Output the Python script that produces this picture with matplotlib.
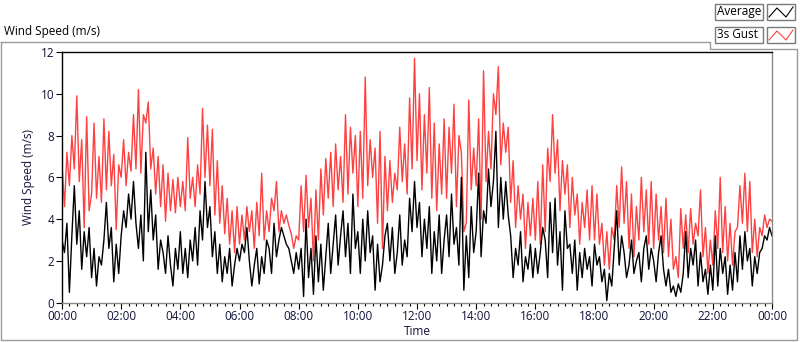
import numpy as np
import matplotlib
matplotlib.use("Agg")
import matplotlib.pyplot as plt
from matplotlib.patches import Rectangle
from matplotlib.lines import Line2D

plt.rcParams['font.family'] = ['Open Sans', 'DejaVu Sans']

# 5-minute samples, hour by hour
gust = [
    6.6, 4.6, 7.2, 5.6, 8.0, 6.4, 9.9, 5.8, 7.8, 3.6, 8.9, 4.4,
    5.2, 8.6, 5.0, 7.0, 4.8, 8.8, 5.4, 8.2, 5.6, 7.1, 3.5, 6.6,
    6.0, 7.8, 5.6, 7.2, 6.3, 9.0, 6.4, 10.2, 6.2, 9.0, 8.6, 9.6,
    6.4, 7.4, 5.2, 7.0, 4.6, 6.6, 3.9, 6.2, 4.4, 5.9, 4.3, 6.0,
    4.6, 5.8, 4.4, 7.9, 5.0, 6.0, 4.6, 6.6, 5.2, 9.3, 6.0, 8.5,
    5.6, 8.3, 4.2, 6.8, 3.8, 5.6, 3.3, 5.0, 2.8, 4.4, 2.4, 4.6,
    2.8, 4.2, 3.0, 4.6, 3.4, 4.4, 2.6, 4.8, 3.2, 6.2, 3.0, 4.4,
    3.4, 5.0, 4.4, 5.8, 3.4, 4.4, 3.8, 4.2, 3.7, 3.3, 2.6, 3.2,
    3.0, 5.6, 3.4, 6.1, 3.6, 5.0, 2.0, 5.4, 3.0, 6.4, 4.2, 6.9,
    5.0, 7.2, 4.6, 7.6, 5.4, 7.0, 4.8, 9.0, 5.2, 8.4, 6.2, 8.0,
    4.6, 8.2, 5.0, 10.8, 5.6, 7.8, 6.0, 7.4, 3.8, 8.2, 2.6, 7.0,
    4.4, 6.8, 4.8, 6.2, 5.4, 8.4, 5.8, 7.6, 5.2, 9.8, 6.4, 11.7,
    6.8, 10.0, 5.4, 9.0, 6.2, 10.3, 5.0, 8.6, 4.4, 7.6, 5.2, 8.8,
    5.0, 8.4, 6.2, 9.5, 4.6, 8.0, 7.2, 3.4, 3.8, 9.7, 5.4, 7.4,
    5.6, 8.8, 4.0, 11.1, 5.8, 8.2, 6.4, 10.0, 9.0, 11.3, 6.6, 8.6,
    7.2, 8.4, 4.8, 6.8, 3.6, 5.6, 4.0, 5.2, 2.6, 4.8, 3.2, 5.0,
    3.0, 5.8, 2.8, 6.6, 3.4, 7.4, 5.8, 9.0, 6.2, 7.8, 4.4, 6.8,
    5.2, 6.6, 3.6, 6.0, 4.2, 5.2, 2.8, 4.8, 3.6, 5.4, 3.0, 5.6,
    3.0, 5.2, 2.8, 3.8, 1.8, 3.4, 1.6, 3.6, 3.0, 5.6, 3.6, 6.5,
    3.8, 5.8, 2.6, 5.2, 2.2, 4.6, 3.0, 6.0, 3.4, 5.4, 2.8, 5.8,
    2.6, 5.2, 3.0, 4.6, 2.4, 5.0, 2.2, 4.0, 1.6, 2.2, 1.2, 4.5,
    2.6, 4.2, 2.4, 4.5, 2.8, 3.8, 3.2, 5.4, 2.2, 3.6, 1.4, 3.0,
    1.8, 4.4, 2.6, 6.0, 2.4, 4.6, 2.0, 3.8, 1.8, 3.4, 3.6, 5.6,
    3.8, 6.2, 3.4, 5.8, 2.4, 4.0, 2.2, 3.6, 3.2, 4.2, 3.6, 4.0,
    3.9,
]
average = [
    3.0, 2.4, 3.8, 0.5, 3.2, 5.6, 2.8, 4.4, 1.6, 3.4, 2.2, 3.6,
    1.2, 2.6, 0.8, 2.2, 1.8, 3.0, 4.8, 2.6, 3.6, 1.0, 2.8, 1.4,
    3.2, 4.4, 3.6, 5.2, 4.0, 5.8, 3.8, 2.6, 4.2, 2.0, 7.2, 3.4,
    5.4, 3.0, 4.2, 1.6, 3.0, 2.4, 1.4, 3.2, 1.8, 0.8, 2.6, 1.6,
    3.4, 1.4, 2.6, 1.2, 3.0, 2.0, 3.6, 1.8, 4.4, 3.0, 5.8, 3.6,
    4.6, 2.2, 3.4, 1.4, 2.8, 1.0, 2.2, 1.4, 2.6, 0.8, 1.8, 2.6,
    2.0, 2.8, 2.4, 3.6, 2.0, 0.8, 1.8, 2.6, 0.9, 2.2, 1.4, 3.0,
    2.6, 1.4, 3.8, 2.2, 3.0, 3.6, 3.2, 2.8, 2.6, 2.0, 1.4, 2.4,
    1.6, 2.6, 0.3, 4.0, 1.2, 2.6, 0.4, 3.2, 1.0, 2.8, 0.6, 2.2,
    3.8, 1.4, 2.8, 4.2, 1.8, 3.2, 4.4, 2.2, 3.8, 1.4, 5.2, 2.6,
    3.4, 1.4, 4.0, 2.0, 4.4, 2.4, 3.2, 0.6, 2.8, 1.0, 1.8, 3.2,
    3.8, 2.0, 3.6, 1.4, 2.4, 4.2, 1.8, 3.0, 2.2, 5.0, 3.4, 5.8,
    3.6, 4.8, 2.2, 4.0, 2.6, 4.6, 1.4, 3.4, 2.0, 4.2, 1.4, 3.0,
    4.2, 2.2, 5.2, 2.8, 3.6, 1.8, 6.0, 0.6, 3.2, 1.2, 4.6, 2.4,
    3.4, 6.2, 2.2, 4.4, 3.8, 6.4, 4.6, 5.8, 8.2, 3.6, 6.0, 4.0,
    5.8, 4.2, 3.2, 1.2, 2.6, 1.8, 3.4, 1.0, 2.2, 1.6, 2.8, 1.2,
    2.6, 1.4, 2.4, 3.6, 3.0, 1.2, 4.8, 2.4, 5.0, 1.8, 3.4, 0.6,
    4.4, 2.6, 2.8, 1.4, 3.0, 0.6, 2.4, 1.2, 2.6, 1.6, 2.2, 0.8,
    2.8, 1.8, 2.2, 1.0, 1.6, 0.1, 1.4, 0.8, 2.6, 4.4, 1.8, 3.2,
    2.4, 1.2, 1.8, 3.0, 1.4, 2.0, 2.4, 1.0, 2.6, 3.2, 1.6, 2.6,
    2.0, 1.0, 2.4, 3.2, 1.6, 0.8, 1.6, 0.5, 0.8, 0.3, 0.9, 0.5,
    1.4, 3.4, 1.2, 2.6, 1.8, 3.0, 0.8, 2.4, 1.0, 1.6, 0.4, 1.8,
    0.6, 3.2, 0.8, 2.6, 1.4, 2.2, 0.4, 1.8, 0.6, 2.4, 1.0, 3.2,
    1.6, 3.4, 2.0, 2.6, 0.8, 2.2, 1.4, 2.4, 2.6, 3.2, 3.0, 3.6,
    3.2,
]
sample_minutes = 5
x_tick_hours = [0, 2, 4, 6, 8, 10, 12, 14, 16, 18, 20, 22, 24]
x_tick_labels = ["00:00", "02:00", "04:00", "06:00", "08:00", "10:00", "12:00",
                 "14:00", "16:00", "18:00", "20:00", "22:00", "00:00"]
y_ticks = [0, 2, 4, 6, 8, 10, 12]

W, H = 800, 342
TXT = '#12123a'
RED = '#ff4040'

fig = plt.figure(figsize=(W / 100, H / 100), dpi=100)
fig.patch.set_facecolor('white')

def fx(x):
    return x / W

def fy(y):
    return 1 - y / H

ax = fig.add_axes([fx(62), fy(302.7), fx(772) - fx(62), fy(52) - fy(302.7)])
hours = np.arange(len(gust)) * sample_minutes / 60.0
ax.plot(hours, gust, color=RED, lw=1.0)
ax.plot(hours, average, color='black', lw=1.0)
ax.set_xlim(0, 24)
ax.set_ylim(0, 12)

ax.set_xticks(x_tick_hours)
ax.set_xticklabels(x_tick_labels)
ax.set_xticks(np.arange(0, 24.01, 0.25), minor=True)
ax.set_yticks(y_ticks)
ax.tick_params(axis='both', which='major', direction='out', length=4, width=0.8,
               labelsize=8.5, labelcolor=TXT, color='black', pad=1.5)
ax.tick_params(axis='x', which='minor', direction='out', length=2.5, width=0.8, color='black')
ax.tick_params(axis='y', which='minor', left=False)

for s in ['left', 'top']:
    ax.spines[s].set_color('black')
    ax.spines[s].set_linewidth(1.0)
for s in ['right', 'bottom']:
    ax.spines[s].set_color('#8a8a8a')
    ax.spines[s].set_linewidth(1.0)

ax.set_xlabel('Time', fontsize=8.5, color=TXT, labelpad=1)
ax.set_ylabel('Wind Speed (m/s)', fontsize=8.5, color=TXT, labelpad=4)

# title
fig.text(fx(4), fy(32), 'Wind Speed (m/s)', fontsize=8.5, color='black', va='center', ha='left')

# outer frame
frame_col = '#9a9a9a'
pts = [(1, 42), (710, 42), (710, 49), (797, 49), (797, 340), (1, 340), (1, 42)]
fig.add_artist(Line2D([fx(p[0]) for p in pts], [fy(p[1]) for p in pts],
                      color=frame_col, lw=1.0, transform=fig.transFigure))

# legend
def box(x0, y0, x1, y1):
    fig.add_artist(Rectangle((fx(x0), fy(y1)), fx(x1) - fx(x0), fy(y0) - fy(y1),
                             transform=fig.transFigure, facecolor='white',
                             edgecolor='#7a7a7a', lw=1.0))

for i, (lab, col) in enumerate([('Average', 'black'), ('3s Gust', RED)]):
    dy = i * 23
    box(715, 4 + dy, 763, 20 + dy)
    fig.text(fx(717), fy(12 + dy), lab, fontsize=8.5, color='black', va='center', ha='left')
    box(767, 4 + dy, 795, 20 + dy)
    xs = [769, 777, 786, 793]
    ys = [17 + dy, 8 + dy, 17 + dy, 7 + dy]
    fig.add_artist(Line2D([fx(v) for v in xs], [fy(v) for v in ys], color=col, lw=0.8,
                          transform=fig.transFigure))

fig.savefig('out.png', dpi=100)
